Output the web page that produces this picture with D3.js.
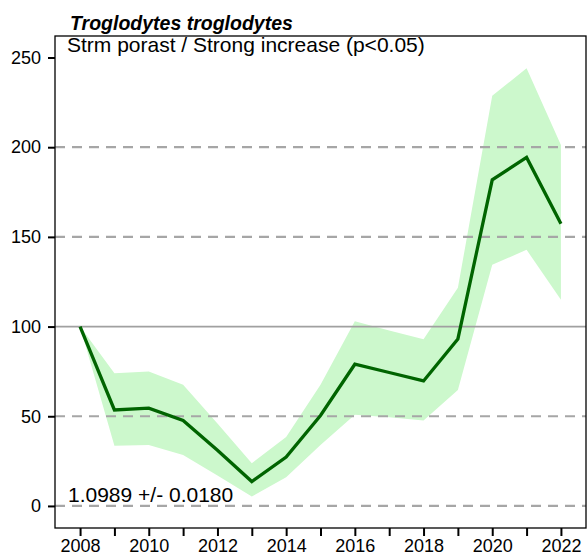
<!DOCTYPE html>
<html>
<head>
<meta charset="utf-8">
<title>Troglodytes troglodytes</title>
<script src="https://cdn.jsdelivr.net/npm/d3@7"></script>
<style>
body { margin: 0; background: #fff; font-family: "Liberation Sans", Arial, sans-serif; }
</style>
</head>
<body>
<div id="chart"></div>
<script>
// values
var years = [2008, 2009, 2010, 2011, 2012, 2013, 2014, 2015, 2016, 2017, 2018, 2019, 2020, 2021, 2022];
var index = [100, 53.5, 54.5, 47.6, 31, 13.6, 27.3, 50.4, 79, 74.4, 69.7, 93.1, 181.8, 194.3, 157.3];
var upper = [100, 74, 75, 67.5, 46, 23.8, 38.5, 67.5, 103, 97.8, 93, 121.6, 228.7, 244, 201.3];
var lower = [100, 33.6, 34, 28.4, 17, 5.2, 16, 34, 50.8, 49.5, 47.6, 64.7, 134.4, 142.8, 115];
var yTicks = [0, 50, 100, 150, 200, 250];
var xLabels = [2008, 2010, 2012, 2014, 2016, 2018, 2020, 2022];
var dashedAt = [0, 50, 150, 200];
var solidAt = [100];

var width = 587, height = 557;
var margin = {top: 36, right: 1, bottom: 29, left: 55};

var svg = d3.select("#chart").append("svg")
    .attr("width", width)
    .attr("height", height);

var x = d3.scaleLinear()
    .domain([2007.27, 2022.73])
    .range([margin.left, width - margin.right]);

var y = d3.scaleLinear()
    .domain([-12.3, 262])
    .range([height - margin.bottom, margin.top]);

var rows = years.map(function(yr, i) {
  return {year: yr, v: index[i], lo: lower[i], hi: upper[i]};
});

// confidence band
var area = d3.area()
    .x(function(d) { return x(d.year); })
    .y0(function(d) { return y(d.lo); })
    .y1(function(d) { return y(d.hi); });

svg.append("path")
    .datum(rows)
    .attr("d", area)
    .attr("fill", "#ccf8cc");

// reference lines
svg.selectAll(".dash")
    .data(dashedAt)
    .enter().append("line")
    .attr("x1", margin.left).attr("x2", width - margin.right)
    .attr("y1", function(d) { return y(d); })
    .attr("y2", function(d) { return y(d); })
    .attr("stroke", "#a6a6a6")
    .attr("stroke-width", 2.2)
    .attr("stroke-dasharray", "10,7");

svg.selectAll(".solid")
    .data(solidAt)
    .enter().append("line")
    .attr("x1", margin.left).attr("x2", width - margin.right)
    .attr("y1", function(d) { return y(d); })
    .attr("y2", function(d) { return y(d); })
    .attr("stroke", "#a0a0a0")
    .attr("stroke-width", 1.8);

// index line
var line = d3.line()
    .x(function(d) { return x(d.year); })
    .y(function(d) { return y(d.v); });

svg.append("path")
    .datum(rows)
    .attr("d", line)
    .attr("fill", "none")
    .attr("stroke", "#006400")
    .attr("stroke-width", 3.3)
    .attr("stroke-linejoin", "miter");

// frame
svg.append("rect")
    .attr("x", margin.left).attr("y", margin.top)
    .attr("width", width - margin.left - margin.right)
    .attr("height", height - margin.top - margin.bottom)
    .attr("fill", "none")
    .attr("stroke", "#000")
    .attr("stroke-width", 1.3);

// axes
var yAxis = d3.axisLeft(y).tickValues(yTicks).tickSize(7).tickPadding(7);
var gy = svg.append("g")
    .attr("transform", "translate(" + margin.left + ",0)")
    .call(yAxis);

var xAxis = d3.axisBottom(x).tickValues(years).tickSize(8).tickPadding(3)
    .tickFormat(function(d) { return xLabels.indexOf(d) >= 0 ? d : ""; });
var gx = svg.append("g")
    .attr("transform", "translate(0," + (height - margin.bottom) + ")")
    .call(xAxis);

[gx, gy].forEach(function(g) {
  g.select(".domain").remove();
  g.selectAll(".tick line").attr("stroke", "#000").attr("stroke-width", 2);
  g.selectAll(".tick text")
    .attr("fill", "#000")
    .style("font-family", "'Liberation Sans', Arial, sans-serif")
    .style("font-size", "18px");
});

// texts
svg.append("text")
    .attr("x", 70).attr("y", 30)
    .style("font-size", "19.5px")
    .style("font-weight", "bold")
    .style("font-style", "italic")
    .text("Troglodytes troglodytes");

svg.append("text")
    .attr("x", 67).attr("y", 52)
    .style("font-size", "21px")
    .text("Strm porast / Strong increase (p<0.05)");

svg.append("text")
    .attr("x", 68).attr("y", 502)
    .style("font-size", "21px")
    .text("1.0989 +/- 0.0180");
</script>
</body>
</html>
